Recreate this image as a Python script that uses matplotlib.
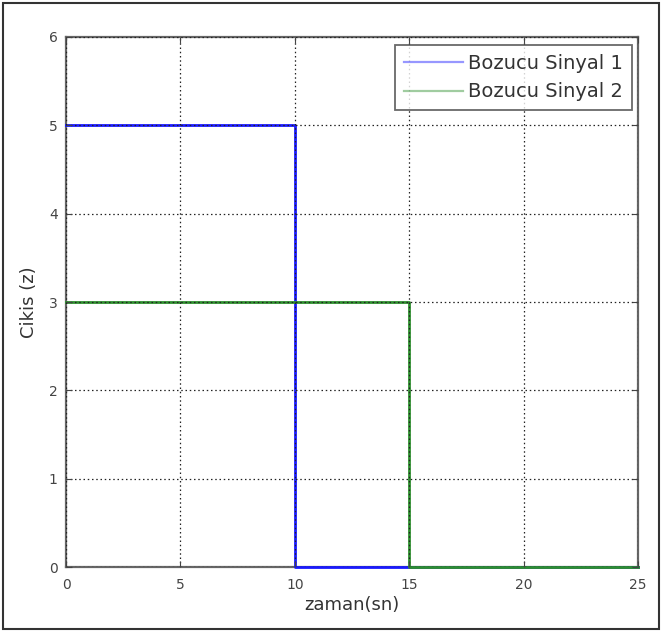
import matplotlib
matplotlib.use("Agg")
import matplotlib.pyplot as plt
from matplotlib.patches import Rectangle

plt.rcParams['font.family'] = ['DejaVu Sans']

# sinyal verileri
t1 = [0, 10, 10, 25]
z1 = [5, 5, 0, 0]
t2 = [0, 15, 15, 25]
z2 = [3, 3, 0, 0]
labels = ["Bozucu Sinyal 1", "Bozucu Sinyal 2"]
xticks = [0, 5, 10, 15, 20, 25]
yticks = [0, 1, 2, 3, 4, 5, 6]

fig = plt.figure(figsize=(6.62, 6.32), dpi=100)
ax = fig.add_axes([0.0997, 0.1028, 0.864, 0.8387])

ax.plot(t1, z1, color='#1a1aff', lw=2.0, label=labels[0], zorder=2.7, clip_on=False)
ax.plot(t2, z2, color='#2e8f2e', lw=2.0, label=labels[1], zorder=2.7, clip_on=False)

ax.set_xlim(0, 25)
ax.set_ylim(0, 6)
ax.set_xticks(xticks)
ax.set_yticks(yticks)
ax.tick_params(direction='in', length=4, width=0.8, top=True, right=True,
               labelsize=10, colors='#444444')
ax.tick_params(axis='x', pad=8)
ax.tick_params(axis='y', pad=6)
ax.grid(True, color='#222222', ls=(0, (1.2, 2.2)), lw=0.9)
# grid noktalari cizgilerin ustunde
ax.xaxis.set_zorder(3)
ax.yaxis.set_zorder(3)
for s in ax.spines.values():
    s.set_color('#666666')
    s.set_linewidth(1.6)
    s.set_zorder(2.5)

ax.set_xlabel("zaman(sn)", fontsize=13, color='#333333', labelpad=3)
ax.set_ylabel("Cikis (z)", fontsize=13, color='#333333', labelpad=8)

leg = ax.legend(loc='upper right', bbox_to_anchor=(0.9895, 0.985), fontsize=14,
                frameon=True, fancybox=False, handlelength=3.0, borderpad=0.45,
                labelspacing=0.5, handletextpad=0.3, borderaxespad=0.0)
leg.set_zorder(5)
leg.get_frame().set_edgecolor('#444444')
leg.get_frame().set_linewidth(1.3)
for h in leg.get_lines():
    h.set_alpha(0.45)
    h.set_linewidth(1.6)
for tx in leg.get_texts():
    tx.set_color('#333333')

# dis cerceve
fig.patches.append(Rectangle((0.004, 0.004), 0.992, 0.992, transform=fig.transFigure,
                             fill=False, edgecolor='#333333', lw=1.5))

fig.savefig("out.png", dpi=100)
